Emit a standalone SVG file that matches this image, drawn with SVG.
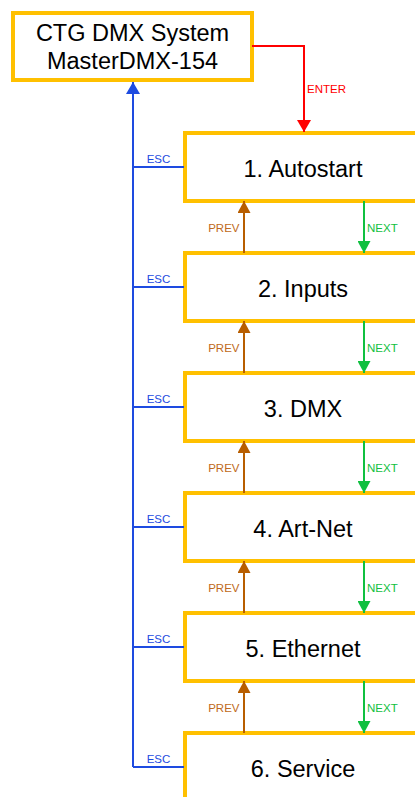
<svg xmlns="http://www.w3.org/2000/svg" width="415" height="797" viewBox="0 0 415 797">
<style>
.box{fill:#fff;stroke:#FFC000;stroke-width:4}
.t{font-family:"Liberation Sans",Arial,sans-serif;font-size:23.5px;fill:#000;text-anchor:middle}
.lb{font-family:"Liberation Sans",Arial,sans-serif;font-size:11.5px}
.esc{stroke:#1E4BE0;stroke-width:2;fill:none}
.prev{stroke:#B85E00;stroke-width:2;fill:none}
.next{stroke:#10C040;stroke-width:2;fill:none}
.enter{stroke:#FF0000;stroke-width:2;fill:none}
</style>
<defs>
<marker id="aBlue" viewBox="0 0 12 14" markerWidth="12" markerHeight="14" refX="12" refY="7" orient="auto" markerUnits="userSpaceOnUse"><path d="M0,0 L12,7 L0,14 z" fill="#1E4BE0"/></marker>
<marker id="aRed" viewBox="0 0 12 14" markerWidth="12" markerHeight="14" refX="12" refY="7" orient="auto" markerUnits="userSpaceOnUse"><path d="M0,0 L12,7 L0,14 z" fill="#FF0000"/></marker>
<marker id="aBrown" viewBox="0 0 12 13" markerWidth="12" markerHeight="13" refX="12" refY="6.5" orient="auto" markerUnits="userSpaceOnUse"><path d="M0,0 L12,6.5 L0,13 z" fill="#B85E00"/></marker>
<marker id="aGreen" viewBox="0 0 12 13" markerWidth="12" markerHeight="13" refX="12" refY="6.5" orient="auto" markerUnits="userSpaceOnUse"><path d="M0,0 L12,6.5 L0,13 z" fill="#10C040"/></marker>
</defs>
<rect width="415" height="797" fill="#fff"/>
<g id="master">
<rect class="box" x="13" y="13" width="239" height="67"/>
<text class="t" x="132.5" y="41">CTG DMX System</text>
<text class="t" x="132.5" y="69">MasterDMX-154</text>
</g>
<g id="n1"><rect class="box" x="185" y="133" width="260" height="68"/><text class="t" x="303" y="177">1. Autostart</text></g>
<g id="n2"><rect class="box" x="185" y="253" width="260" height="68"/><text class="t" x="303" y="297">2. Inputs</text></g>
<g id="n3"><rect class="box" x="185" y="373" width="260" height="68"/><text class="t" x="303" y="417">3. DMX</text></g>
<g id="n4"><rect class="box" x="185" y="493" width="260" height="68"/><text class="t" x="303" y="537">4. Art-Net</text></g>
<g id="n5"><rect class="box" x="185" y="613" width="260" height="68"/><text class="t" x="303" y="657">5. Ethernet</text></g>
<g id="n6"><rect class="box" x="185" y="733" width="260" height="68"/><text class="t" x="303" y="777">6. Service</text></g>
<g id="connectors">
<path class="enter" d="M252,46 H304 V132" marker-end="url(#aRed)"/>
<text class="lb" x="307" y="93" fill="#FF0000">ENTER</text>
<path class="esc" d="M133,767 V82" marker-end="url(#aBlue)"/>
<path class="esc" d="M133,167 H184 M133,287 H184 M133,407 H184 M133,527 H184 M133,647 H184 M133,767 H184"/>
<g class="lb" fill="#1E4BE0" text-anchor="middle">
<text x="158.5" y="163">ESC</text>
<text x="158.5" y="283">ESC</text>
<text x="158.5" y="403">ESC</text>
<text x="158.5" y="523">ESC</text>
<text x="158.5" y="643">ESC</text>
<text x="158.5" y="763">ESC</text>
</g>
<path class="prev" d="M244,253 V201" marker-end="url(#aBrown)"/>
<path class="prev" d="M244,373 V321" marker-end="url(#aBrown)"/>
<path class="prev" d="M244,493 V441" marker-end="url(#aBrown)"/>
<path class="prev" d="M244,613 V561" marker-end="url(#aBrown)"/>
<path class="prev" d="M244,733 V681" marker-end="url(#aBrown)"/>
<path class="next" d="M364,201 V253" marker-end="url(#aGreen)"/>
<path class="next" d="M364,321 V373" marker-end="url(#aGreen)"/>
<path class="next" d="M364,441 V493" marker-end="url(#aGreen)"/>
<path class="next" d="M364,561 V613" marker-end="url(#aGreen)"/>
<path class="next" d="M364,681 V733" marker-end="url(#aGreen)"/>
<g class="lb" fill="#C06A20" text-anchor="end">
<text x="239.5" y="232">PREV</text>
<text x="239.5" y="352">PREV</text>
<text x="239.5" y="472">PREV</text>
<text x="239.5" y="592">PREV</text>
<text x="239.5" y="712">PREV</text>
</g>
<g class="lb" fill="#10C040">
<text x="367" y="232">NEXT</text>
<text x="367" y="352">NEXT</text>
<text x="367" y="472">NEXT</text>
<text x="367" y="592">NEXT</text>
<text x="367" y="712">NEXT</text>
</g>
</g>
</svg>
